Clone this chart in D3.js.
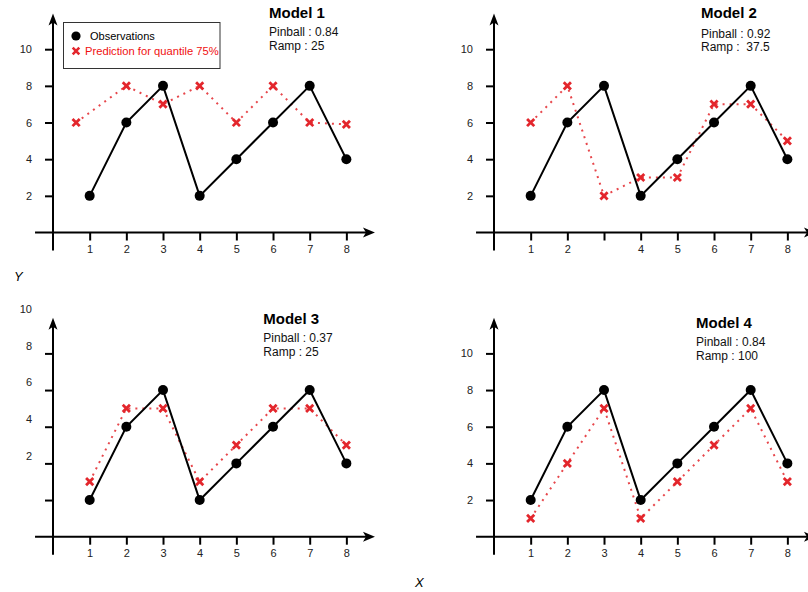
<!DOCTYPE html>
<html>
<head>
<meta charset="utf-8">
<script src="https://cdn.jsdelivr.net/npm/d3@7"></script>
<style>
  html, body { margin: 0; padding: 0; background: #fff; }
  svg { display: block; }
  text { font-family: "Liberation Sans", Arial, Helvetica, sans-serif; }
</style>
</head>
<body>
<svg id="chart" width="808" height="592"></svg>
<script>
// ---------------- DATA ----------------
const xCategories = [1, 2, 3, 4, 5, 6, 7, 8];
const observations = [2, 6, 8, 2, 4, 6, 8, 4];

const predModel1 = [6, 8, 7, 8, 6, 8, 6, 5.9];
const predModel1X = [0.63, 2, 3, 4, 5, 6, 7, 8];
const predModel2 = [6, 8, 2, 3, 3, 7, 7, 5];
const predModel3 = [3, 7, 7, 3, 5, 7, 7, 5];
const predModel4 = [1, 4, 7, 1, 3, 5, 7, 3];

const modelNames = ["Model 1", "Model 2", "Model 3", "Model 4"];
const pinballLabels = ["Pinball : 0.84", "Pinball : 0.92", "Pinball : 0.37", "Pinball : 0.84"];
const rampLabels = ["Ramp : 25", "Ramp :  37.5", "Ramp : 25", "Ramp : 100"];

const yTickValues = [2, 4, 6, 8, 10];
const xTickLabelsDefault = ["1", "2", "3", "4", "5", "6", "7", "8"];
const xTickLabelsModel2 = ["1", "2", "", "4", "5", "6", "7", "8"];
// Model 3's y labels are drawn one step (2 units) higher than their tick marks
const yLabelShiftModel3 = 2;

const legendLabels = ["Observations", "Prediction for quantile 75%"];

// ---------------- LAYOUT ----------------
const UX = 36.67;   // px per x unit
const UY = 18.33;   // px per y unit
const RED = "#e3262c";

const panels = [
  { ox: 53,  oy: 232.5, pred: predModel1, predX: predModel1X, xLabels: xTickLabelsDefault, yShift: 0, yDy: 0,
    tx: 269, tTitle: 18.3, tPin: 35.8, tRamp: 49.5, legend: true },
  { ox: 494, oy: 232.5, pred: predModel2, predX: xCategories, xLabels: xTickLabelsModel2, yShift: 0, yDy: 0,
    tx: 701, tTitle: 18.3, tPin: 37.6, tRamp: 51.2 },
  { ox: 53,  oy: 536.7, pred: predModel3, predX: xCategories, xLabels: xTickLabelsDefault, yShift: yLabelShiftModel3, yDy: -7.3,
    tx: 263.3, tTitle: 323.7, tPin: 342, tRamp: 356 },
  { ox: 494, oy: 536.7, pred: predModel4, predX: xCategories, xLabels: xTickLabelsDefault, yShift: 0, yDy: 0,
    tx: 696, tTitle: 328.3, tPin: 346.3, tRamp: 360.3 }
];

const svg = d3.select("#chart");

function crossPath(cx, cy, s) {
  return `M${cx - s},${cy - s}L${cx + s},${cy + s}M${cx - s},${cy + s}L${cx + s},${cy - s}`;
}

panels.forEach((p, i) => {
  const x = d3.scaleLinear().domain([0, 8]).range([p.ox, p.ox + 8 * UX]);
  const y = d3.scaleLinear().domain([0, 10]).range([p.oy, p.oy - 10 * UY]);
  const g = svg.append("g");

  // x-axis line + arrow
  const xEnd = x(8.78);
  g.append("line").attr("x1", x(-0.49)).attr("x2", xEnd - 6)
    .attr("y1", y(0)).attr("y2", y(0)).attr("stroke", "#000").attr("stroke-width", 2);
  g.append("path")
    .attr("d", `M${xEnd},${y(0)}L${xEnd - 12},${y(0) - 5}L${xEnd - 9},${y(0)}L${xEnd - 12},${y(0) + 5}Z`)
    .attr("fill", "#000");

  // y-axis line + arrow
  const yEnd = y(11.95);
  g.append("line").attr("x1", x(0)).attr("x2", x(0))
    .attr("y1", y(-0.98)).attr("y2", yEnd + 6).attr("stroke", "#000").attr("stroke-width", 2);
  g.append("path")
    .attr("d", `M${x(0)},${yEnd}L${x(0) - 4.5},${yEnd + 12}L${x(0)},${yEnd + 9}L${x(0) + 4.5},${yEnd + 12}Z`)
    .attr("fill", "#000");

  // x ticks
  const xAxis = d3.axisBottom(x).tickValues(xCategories)
    .tickSizeInner(8).tickSizeOuter(0).tickPadding(5)
    .tickFormat((d, k) => p.xLabels[k]);
  const gx = g.append("g").attr("transform", `translate(0,${y(0)})`).call(xAxis);
  gx.select(".domain").remove();
  gx.selectAll("line").attr("stroke", "#000").attr("stroke-width", 2);
  gx.selectAll("text").attr("font-size", 11).attr("fill", "#222")
    .attr("font-family", "Liberation Sans, Arial, sans-serif");

  // y ticks
  const yAxis = d3.axisLeft(y).tickValues(yTickValues)
    .tickSizeInner(8).tickSizeOuter(0).tickPadding(13)
    .tickFormat(p.yShift ? "" : d3.format("d"));
  const gy = g.append("g").attr("transform", `translate(${x(0)},0)`).call(yAxis);
  gy.select(".domain").remove();
  gy.selectAll("line").attr("stroke", "#000").attr("stroke-width", 2);
  gy.selectAll("text").attr("font-size", 11).attr("fill", "#222")
    .attr("font-family", "Liberation Sans, Arial, sans-serif");

  if (p.yShift) {
    g.selectAll("text.ylab").data(yTickValues).join("text")
      .attr("class", "ylab")
      .attr("x", x(0) - 21)
      .attr("y", d => y(d + p.yShift) + p.yDy)
      .attr("dy", "0.32em")
      .attr("text-anchor", "end")
      .attr("font-size", 11).attr("fill", "#222")
      .text(d => d);
  }

  // prediction dotted line
  const predPts = p.pred.map((v, k) => [p.predX[k], v]);
  g.append("path")
    .datum(predPts)
    .attr("d", d3.line().x(d => x(d[0])).y(d => y(d[1])))
    .attr("fill", "none").attr("stroke", RED).attr("stroke-width", 2)
    .attr("stroke-dasharray", "2 5").attr("opacity", 0.85);

  // observation line
  const obsPts = observations.map((v, k) => [xCategories[k], v]);
  g.append("path")
    .datum(obsPts)
    .attr("d", d3.line().x(d => x(d[0])).y(d => y(d[1])))
    .attr("fill", "none").attr("stroke", "#000").attr("stroke-width", 2);

  // prediction crosses
  g.selectAll("path.cross").data(predPts).join("path")
    .attr("class", "cross")
    .attr("d", d => crossPath(x(d[0]), y(d[1]), 3.6))
    .attr("stroke", RED).attr("stroke-width", 2.8).attr("fill", "none");

  // observation dots
  g.selectAll("circle.obs").data(obsPts).join("circle")
    .attr("class", "obs")
    .attr("cx", d => x(d[0])).attr("cy", d => y(d[1])).attr("r", 5)
    .attr("fill", "#000");

  // titles
  g.append("text").attr("x", p.tx).attr("y", p.tTitle)
    .attr("font-size", 15).attr("font-weight", "bold").attr("fill", "#000")
    .text(modelNames[i]);
  g.append("text").attr("x", p.tx).attr("y", p.tPin)
    .attr("font-size", 12).attr("fill", "#111").attr("xml:space", "preserve")
    .style("white-space", "pre")
    .text(pinballLabels[i]);
  g.append("text").attr("x", p.tx).attr("y", p.tRamp)
    .attr("font-size", 12).attr("fill", "#111")
    .style("white-space", "pre")
    .text(rampLabels[i]);

  // legend
  if (p.legend) {
    const lg = g.append("g");
    lg.append("rect").attr("x", 63.5).attr("y", 22.5).attr("width", 156.5).attr("height", 46)
      .attr("fill", "#fff").attr("stroke", "#333").attr("stroke-width", 1);
    lg.append("circle").attr("cx", 76).attr("cy", 36).attr("r", 4.6).attr("fill", "#000");
    lg.append("text").attr("x", 90).attr("y", 36).attr("dy", "0.35em")
      .attr("font-size", 11).attr("fill", "#000").text(legendLabels[0]);
    lg.append("path").attr("d", crossPath(76, 51, 3.3))
      .attr("stroke", RED).attr("stroke-width", 2.6);
    lg.append("text").attr("x", 85).attr("y", 51).attr("dy", "0.35em")
      .attr("font-size", 11.2).attr("fill", "#f01010").text(legendLabels[1]);
  }
});

// Global axis letters
svg.append("text").attr("x", 14).attr("y", 281)
  .attr("font-family", "Liberation Serif, DejaVu Serif, serif").attr("font-style", "italic")
  .attr("font-size", 13).attr("fill", "#000").text("Y");
svg.append("text").attr("x", 415).attr("y", 587)
  .attr("font-family", "Liberation Serif, DejaVu Serif, serif").attr("font-style", "italic")
  .attr("font-size", 13).attr("fill", "#000").text("X");
</script>
</body>
</html>
